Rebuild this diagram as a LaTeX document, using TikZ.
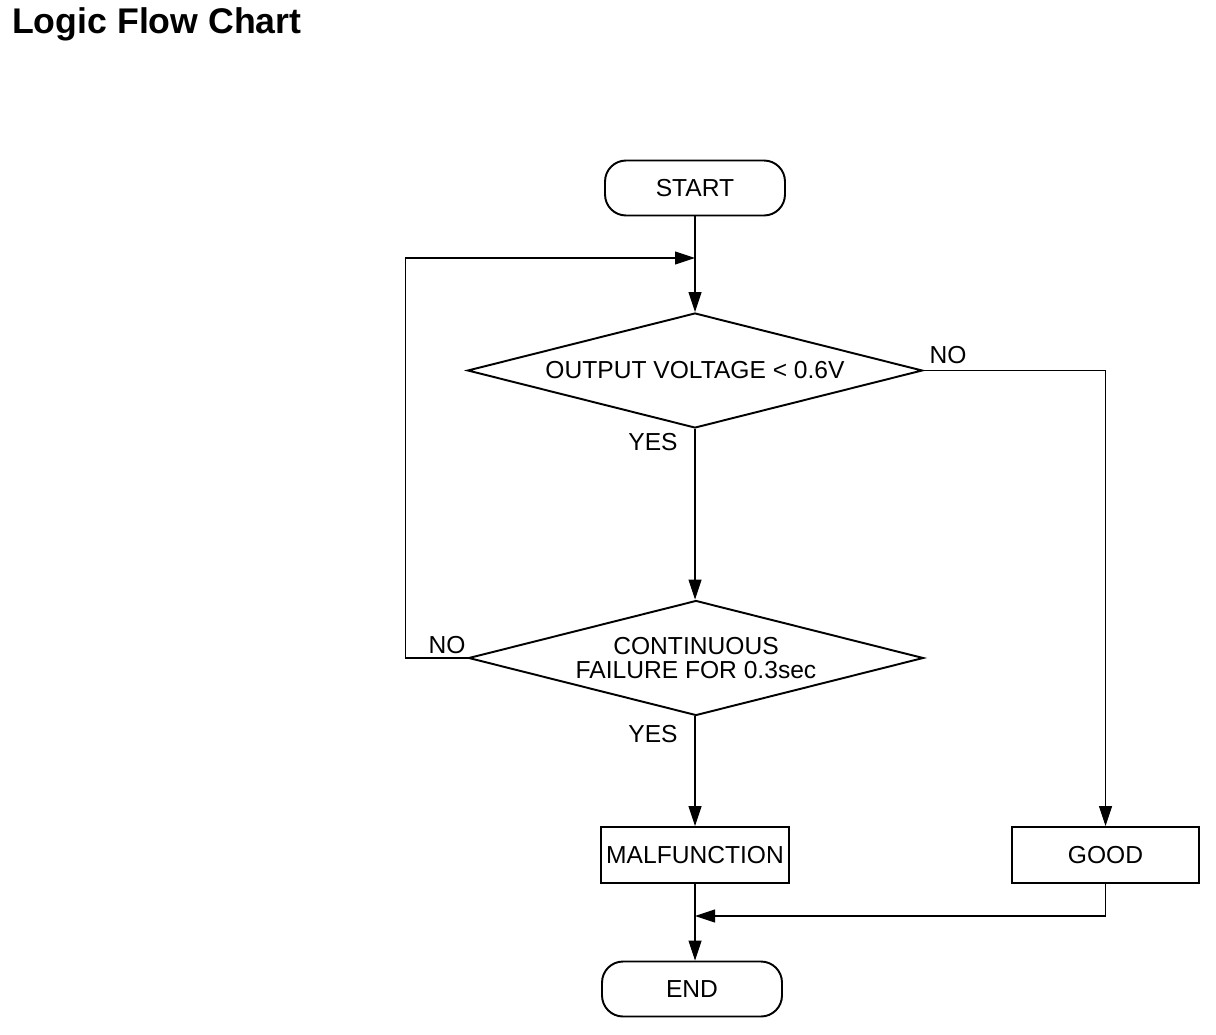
\documentclass[tikz,border=0pt]{standalone}
\usepackage{fontspec}
\setmainfont{Liberation Sans}
\usetikzlibrary{shapes.geometric,arrows.meta}

\begin{document}
\begin{tikzpicture}[x=0.02cm, y=-0.02cm,
	every node/.style={font=\fontsize{14}{14.2}\selectfont},
	terminal/.style={draw, line width=1.1pt, rounded corners=0.42cm, minimum width=3.6cm, minimum height=1.1cm, inner sep=0pt},
	test/.style={draw, diamond, aspect=4, line width=1.1pt, minimum width=9.1cm, minimum height=2.3cm, inner sep=0pt, align=center},
	task/.style={draw, line width=1.1pt, minimum width=3.75cm, minimum height=1.12cm, inner sep=0pt},
	flow/.style={line width=0.6pt},
	arr/.style={flow, -{Triangle[length=0.4cm, width=0.26cm]}}]
	
	\useasboundingbox (0,0) rectangle (1216,1034);
	
	\node[anchor=base west, font=\fontsize{20.3}{22}\selectfont\bfseries] (title) at (6,34) {Logic Flow Chart};
	
	\node[terminal]    (start)  at (695,188)  {START};
	\node[test]        (chkvolt) at (695,370.5) {OUTPUT VOLTAGE < 0.6V};
	\node[test]        (chktime) at (696,658)  {CONTINUOUS\\FAILURE FOR 0.3sec};
	\node[task]        (malf)   at (695,855)  {MALFUNCTION};
	\node[task]        (good)   at (1105.5,855) {GOOD};
	\node[terminal]    (finish) at (692,989)  {END};
	
	\coordinate (loop)  at (695,258);
	\coordinate (merge) at (695,916);
	
	\node (novolt)  at (948,355) {NO};
	\node (yesvolt) at (653,442) {YES};
	\node (notime)  at (447,645) {NO};
	\node (yestime) at (653,734) {YES};
	
	\draw [arr]  (start.south)   -- (chkvolt.north);
	\draw [arr]  (chkvolt.south) -- (chktime.north -| chkvolt.south);
	\draw [arr]  (chkvolt.east)  -| (good.north);
	\draw [arr]  (chktime.west)  -- ++(-62,0) |- (loop);
	\draw [arr]  (chktime.south -| malf.north) -- (malf.north);
	\draw [arr]  (malf.south)    -- (finish.north -| malf.south);
	\draw [arr]  (good.south)    |- (merge);
	
\end{tikzpicture}
\end{document}
